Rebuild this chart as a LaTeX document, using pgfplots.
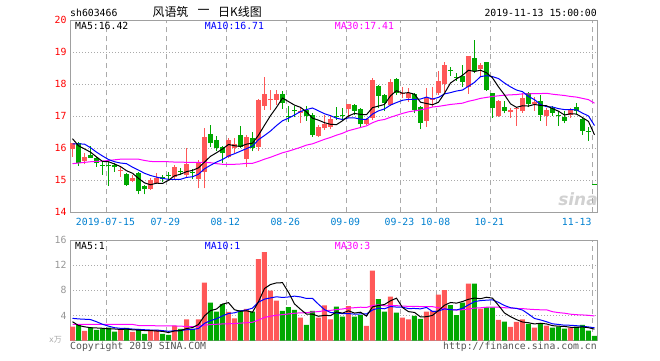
\documentclass[border=0pt]{standalone}
\usepackage{fontspec}
\setmainfont{DejaVu Sans Mono}
\setsansfont{DejaVu Sans}
\newfontfamily\cjk{Noto Sans CJK SC}
\usepackage{pgfplots}
\pgfplotsset{compat=1.18}
\usepackage{pgfplotstable}

\definecolor{kred}{RGB}{255,88,88}
\definecolor{kgreen}{RGB}{0,168,0}
\definecolor{dateblue}{RGB}{0,128,208}
\definecolor{gridgray}{RGB}{170,170,170}
\definecolor{framegray}{RGB}{160,160,160}
\definecolor{tickgray}{RGB}{150,150,150}
\definecolor{maBlue}{RGB}{0,0,255}
\definecolor{maMag}{RGB}{255,0,255}
\definecolor{copygray}{RGB}{85,85,85}
\newcommand{\fs}{\fontsize{9.85}{11}\selectfont}

% up (red) candles: index open high low close volume(x10^4)
\pgfplotstableread{
i o h l c v
0 15.98 16.18 15.74 16.16 2.22
2 15.61 15.84 15.50 15.74 1.53
8 15.30 15.43 15.11 15.32 1.69
10 14.99 15.17 14.94 15.08 1.38
13 14.73 15.06 14.70 15.01 1.69
14 14.93 15.22 14.89 15.08 1.69
17 15.11 15.48 15.04 15.43 2.38
19 15.15 16.00 15.11 15.50 3.39
21 15.03 15.63 14.75 15.53 3.39
22 15.27 16.62 14.75 16.34 9.21
26 15.74 16.31 15.69 16.26 4.55
27 16.00 16.31 15.84 16.14 3.54
29 15.66 16.42 15.41 16.36 5.03
31 16.05 17.53 15.93 17.51 12.96
32 17.32 18.24 17.20 17.70 14.07
33 17.50 17.82 17.20 17.51 7.94
34 17.51 17.82 17.35 17.70 6.35
38 17.10 17.25 16.78 17.16 3.65
41 16.39 16.73 16.34 16.65 3.65
42 16.62 17.04 16.57 16.76 5.61
43 16.68 17.04 16.59 16.91 3.39
46 17.22 17.39 16.94 17.39 5.50
49 16.75 16.94 16.73 16.91 2.33
50 16.94 18.21 16.89 18.14 11.11
53 17.35 18.16 17.32 18.06 6.98
55 17.71 17.93 17.56 17.72 3.65
56 17.56 17.87 17.46 17.74 3.39
59 16.86 17.87 16.68 17.56 4.60
60 17.50 17.93 17.30 17.51 4.71
61 17.74 18.43 17.67 18.11 7.30
62 18.01 18.71 17.77 18.60 8.04
66 17.93 18.89 17.70 18.89 9.05
68 18.47 18.66 18.24 18.60 5.08
71 17.01 17.51 16.99 17.48 3.28
73 17.12 17.27 16.96 17.20 2.17
74 17.24 17.26 16.71 17.25 2.96
75 17.15 17.74 17.11 17.56 3.39
77 17.38 17.61 17.17 17.46 2.06
79 17.01 17.25 16.70 17.20 2.38
83 17.04 17.25 16.96 17.20 2.06
}\up

% down (green) candles
\pgfplotstableread{
i o h l c v
1 16.16 16.21 15.46 15.53 2.49
3 15.79 16.08 15.69 15.71 2.12
4 15.71 15.74 15.43 15.53 1.69
5 15.46 15.58 15.17 15.45 1.96
6 15.46 15.58 14.83 15.45 2.06
7 15.48 15.53 15.27 15.41 1.43
9 15.20 15.22 14.82 14.85 2.01
11 15.22 15.27 14.56 14.65 1.85
12 14.83 14.85 14.56 14.72 1.06
15 15.11 15.17 14.96 15.03 1.06
16 15.16 15.27 15.03 15.15 0.90
18 15.26 15.37 15.15 15.25 1.85
20 15.25 15.34 15.03 15.24 1.85
23 16.44 16.73 16.05 16.16 6.03
24 16.26 16.39 15.90 16.02 4.60
25 16.03 16.08 15.53 15.84 5.82
28 16.42 16.70 16.00 16.05 4.81
30 16.33 16.51 15.90 16.00 4.60
35 17.69 17.79 17.23 17.41 4.71
36 16.98 17.32 16.83 16.97 5.34
37 17.17 17.32 16.97 17.16 4.87
39 17.20 17.32 16.86 17.01 2.49
40 17.04 17.09 16.36 16.42 4.71
44 16.98 17.28 16.89 16.97 5.40
45 17.03 17.25 16.86 17.02 3.81
47 17.35 17.39 17.04 17.17 3.81
48 17.23 17.27 16.68 16.75 4.07
51 17.95 17.98 17.25 17.64 6.61
52 17.65 17.70 17.15 17.43 4.60
54 18.17 18.19 17.67 17.74 4.44
57 17.69 17.72 17.09 17.20 3.92
58 17.30 17.32 16.59 16.80 3.44
63 18.43 18.53 18.27 18.42 5.66
64 18.22 18.34 18.11 18.21 4.07
65 18.26 18.60 17.93 18.08 6.03
67 18.81 19.39 18.34 18.42 9.05
69 18.69 18.71 17.80 17.82 5.29
70 17.72 17.74 16.96 17.27 5.29
72 17.28 17.49 17.09 17.18 3.02
76 17.74 17.77 17.28 17.39 2.65
78 17.48 17.67 16.86 17.04 2.75
80 17.27 17.32 17.01 17.11 2.06
81 17.02 17.15 16.70 17.01 2.22
82 16.97 17.15 16.78 16.86 1.90
84 17.28 17.43 17.07 17.18 2.22
85 16.92 16.94 16.42 16.55 2.49
86 16.53 16.68 16.23 16.52 1.59
87 14.86 14.86 14.86 14.86 0.74
}\dn

% price moving averages
\pgfplotstableread{
i ma5 ma10 ma30
0 16.30 16.14 15.52
1 16.08 16.14 15.54
2 15.98 16.13 15.56
3 15.88 16.02 15.58
4 15.73 15.88 15.59
5 15.59 15.76 15.60
6 15.58 15.65 15.62
7 15.51 15.58 15.64
8 15.43 15.54 15.66
9 15.30 15.52 15.66
10 15.22 15.41 15.66
11 15.06 15.32 15.66
12 14.92 15.22 15.62
13 14.86 15.15 15.59
14 14.91 15.10 15.58
15 14.90 15.06 15.58
16 15.00 15.03 15.58
17 15.14 15.03 15.57
18 15.19 15.03 15.57
19 15.27 15.09 15.56
20 15.31 15.11 15.56
21 15.39 15.19 15.56
22 15.57 15.36 15.56
23 15.75 15.47 15.55
24 15.86 15.57 15.52
25 15.98 15.65 15.50
26 16.12 15.76 15.50
27 16.08 15.83 15.50
28 16.06 15.91 15.51
29 16.13 15.99 15.53
30 16.16 16.07 15.53
31 16.41 16.27 15.59
32 16.72 16.40 15.66
33 17.02 16.54 15.72
34 17.28 16.71 15.79
35 17.57 16.86 15.86
36 17.46 16.94 15.91
37 17.35 17.04 15.97
38 17.28 17.15 16.03
39 17.14 17.21 16.10
40 16.94 17.26 16.14
41 16.88 17.17 16.21
42 16.80 17.08 16.28
43 16.75 17.02 16.34
44 16.74 16.94 16.41
45 16.86 16.90 16.47
46 17.01 16.95 16.55
47 17.09 16.95 16.60
48 17.06 16.91 16.65
49 17.05 16.90 16.70
50 17.27 17.07 16.80
51 17.32 17.17 16.87
52 17.37 17.23 16.90
53 17.64 17.35 16.97
54 17.80 17.43 17.03
55 17.72 17.50 17.09
56 17.74 17.53 17.14
57 17.69 17.53 17.17
58 17.44 17.54 17.20
59 17.40 17.60 17.24
60 17.36 17.54 17.29
61 17.44 17.59 17.31
62 17.72 17.70 17.34
63 18.04 17.74 17.37
64 18.17 17.79 17.39
65 18.28 17.82 17.41
66 18.44 17.94 17.47
67 18.40 18.06 17.51
68 18.44 18.24 17.56
69 18.36 18.27 17.59
70 18.20 18.24 17.62
71 17.92 18.18 17.64
72 17.67 18.04 17.66
73 17.39 17.92 17.67
74 17.28 17.82 17.68
75 17.33 17.77 17.70
76 17.32 17.62 17.70
77 17.37 17.52 17.71
78 17.34 17.37 17.71
79 17.33 17.30 17.72
80 17.24 17.29 17.69
81 17.16 17.24 17.67
82 17.04 17.21 17.65
83 17.08 17.21 17.62
84 17.07 17.20 17.60
85 16.96 17.10 17.56
86 16.84 17.01 17.52
87 16.42 16.71 17.41
}\ma

% volume moving averages
\pgfplotstableread{
i vm5 vm10 vm30
0 3.00 3.54 2.60
1 2.40 3.45 2.60
2 2.20 3.40 2.60
3 2.05 3.35 2.60
4 2.01 3.00 2.60
5 1.96 2.60 2.60
6 1.87 2.30 2.60
7 1.85 2.05 2.60
8 1.77 1.95 2.60
9 1.83 1.92 2.59
10 1.71 1.84 2.58
11 1.67 1.77 2.40
12 1.60 1.73 2.38
13 1.60 1.68 2.37
14 1.53 1.68 2.36
15 1.47 1.59 2.35
16 1.28 1.48 2.33
17 1.54 1.57 2.33
18 1.58 1.59 2.30
19 1.92 1.73 2.25
20 2.07 1.77 2.22
21 2.57 1.93 2.25
22 3.94 2.74 2.45
23 4.77 3.18 2.55
24 5.02 3.47 2.60
25 5.81 3.94 2.65
26 6.04 4.31 2.68
27 4.91 4.42 2.72
28 4.66 4.72 2.78
29 4.75 4.88 2.84
30 4.51 5.16 2.92
31 6.19 6.12 3.27
32 8.29 6.60 3.69
33 8.92 6.79 3.88
34 9.18 6.97 4.04
35 9.21 6.86 4.13
36 7.68 6.94 4.24
37 5.84 7.07 4.35
38 4.98 6.95 4.42
39 4.21 6.70 4.44
40 4.21 6.71 4.55
41 3.87 5.78 4.61
42 4.02 4.93 4.76
43 3.97 4.48 4.81
44 4.55 4.38 4.94
45 4.37 4.29 5.03
46 4.74 4.31 5.18
47 4.38 4.20 5.23
48 4.52 4.24 5.31
49 3.90 4.23 5.27
50 5.36 4.87 5.58
51 5.59 5.16 5.69
52 5.74 5.06 5.53
53 6.33 5.42 5.56
54 6.75 5.33 5.56
55 5.26 5.31 5.49
56 4.61 5.10 5.45
57 4.48 5.11 5.46
58 3.77 5.05 5.41
59 3.80 5.27 5.40
60 4.01 4.63 5.40
61 4.79 4.70 5.22
62 5.62 5.05 5.01
63 6.06 4.92 4.94
64 5.96 4.88 4.86
65 6.22 5.12 4.91
66 6.57 5.68 5.03
67 6.77 6.20 5.17
68 6.66 6.36 5.22
69 6.90 6.43 5.31
70 6.75 6.49 5.33
71 5.60 6.08 5.32
72 4.39 5.58 5.23
73 3.81 5.23 5.19
74 3.34 5.12 5.11
75 2.96 4.86 5.09
76 2.84 4.22 5.00
77 2.65 3.52 4.94
78 2.76 3.29 4.90
79 2.65 3.00 4.90
80 2.38 2.67 4.60
81 2.29 2.57 4.45
82 2.26 2.45 4.36
83 2.12 2.44 4.20
84 2.09 2.37 4.12
85 2.18 2.28 4.08
86 2.05 2.17 4.02
87 1.82 2.04 3.92
}\vma

\pgfplotsset{
  kline/.style={
    scale only axis, width=527bp,
    xmin=-0.417, xmax=87.42,
    axis line style={draw=framegray, line width=1bp},
    xtick={5.7,15.7,25.7,35.7,45.7,54.7,60.7,69.7,86.7},
    xticklabels={{},{},{},{},{},{},{},{},{}},
    major tick length=0pt,
    xmajorgrids, ymajorgrids,
    x grid style={draw=gridgray, line width=1bp, dash pattern=on 5bp off 4bp},
    y grid style={draw=gridgray, line width=1bp, dash pattern=on 1bp off 2bp},
    /pgf/number format/assume math mode=true,
    yticklabel style={font=\fs},
  },
  wick/.style={draw=none, mark=none, forget plot,
    error bars/.cd, y dir=plus, y explicit, error mark=none,
    error bar style={solid, line width=1bp, draw=#1}},
  body/.style={draw=none, mark=none, forget plot,
    error bars/.cd, y dir=plus, y explicit, error mark=none,
    error bar style={solid, line width=5bp, draw=#1}},
}

\begin{document}
\begin{tikzpicture}[x=1bp, y=1bp]
\path[use as bounding box] (0,0) rectangle (660,360);

% watermark
\node[text=black!18, font=\sffamily\bfseries\itshape\fontsize{17}{17}\selectfont] at (578,161) {sina};

% ---------- price panel ----------
\begin{axis}[kline,
  at={(70bp,339.7bp)}, anchor=north west,
  height=192bp,
  ymin=14, ymax=20, ytick={14,15,16,17,18,19,20},
  yticklabel style={text=red},
]
\addplot[wick=kred] table[x=i, y=l, y error expr=\thisrow{h}-\thisrow{l}] {\up};
\addplot[wick=kgreen] table[x=i, y=l, y error expr=\thisrow{h}-\thisrow{l}] {\dn};
\addplot[body=kred] table[x=i, y=o, y error expr={max(\thisrow{c}-\thisrow{o},0.03)}] {\up};
\addplot[body=kgreen] table[x=i, y=c, y error expr={max(\thisrow{o}-\thisrow{c},0.03)}] {\dn};
\addplot[maMag, line width=1bp, mark=none] table[x=i, y=ma30] {\ma};
\addplot[maBlue, line width=1bp, mark=none] table[x=i, y=ma10] {\ma};
\addplot[black, line width=1bp, mark=none] table[x=i, y=ma5] {\ma};
\end{axis}

% ---------- volume panel ----------
\begin{axis}[kline,
  at={(70bp,120bp)}, anchor=north west,
  height=100.6bp,
  ymin=0, ymax=16, ytick={4,8,12,16},
  yticklabel style={text=tickgray},
]
\addplot[ybar, bar width=5bp, bar shift=0pt, fill=kred, draw=none] table[x=i, y=v] {\up};
\addplot[ybar, bar width=5bp, bar shift=0pt, fill=kgreen, draw=none] table[x=i, y=v] {\dn};
\addplot[maMag, line width=1bp, mark=none] table[x=i, y=vm30] {\vma};
\addplot[maBlue, line width=1bp, mark=none] table[x=i, y=vm10] {\vma};
\addplot[black, line width=1bp, mark=none] table[x=i, y=vm5] {\vma};
\end{axis}

% ---------- texts ----------
\begin{scope}[every node/.style={inner sep=0pt, font=\fs}]
\node[anchor=west] at (70,347) {sh603466};
\node[anchor=east] at (597,347) {2019-11-13 15:00:00};
\node[font=\cjk\fontsize{12}{12}\selectfont] at (170.5,348) {风语筑};
\node[font=\cjk\fontsize{12}{12}\selectfont] at (203.5,348) {一};
\node[anchor=west, font=\cjk\fontsize{12}{12}\selectfont] at (218,348) {日K线图};

\node[anchor=west] at (75,334) {MA5:16.42};
\node[anchor=west, text=maBlue] at (204.7,334) {MA10:16.71};
\node[anchor=west, text=maMag] at (334.7,334) {MA30:17.41};

\node[anchor=west] at (75,114) {MA5:1};
\node[anchor=west, text=maBlue] at (204.7,114) {MA10:1};
\node[anchor=west, text=maMag] at (334.7,114) {MA30:3};

\foreach \xx/\lab in {105.5/2019-07-15, 165.3/07-29, 225.3/08-12, 285.3/08-26, 345.3/09-09, 399.5/09-23, 435.5/10-08, 489.3/10-21, 576.7/11-13}
  \node[text=dateblue] at (\xx,138.5) {\lab};

\node[anchor=east, text=black!35] at (62,20) {\fontsize{8}{8}\selectfont x\cjk 万};
\node[anchor=west, text=copygray] at (70,13.5) {Copyright 2019 SINA.COM};
\node[anchor=east, text=copygray] at (597,13.5) {http://finance.sina.com.cn};
\end{scope}
\end{tikzpicture}
\end{document}
